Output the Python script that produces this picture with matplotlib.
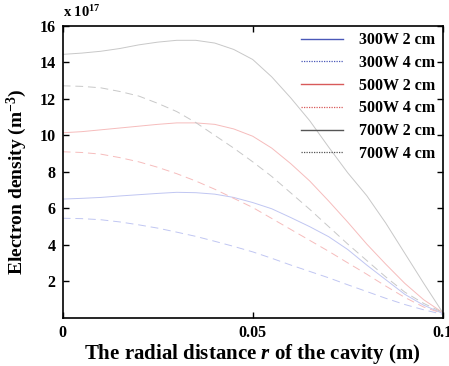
import matplotlib.pyplot as plt
from matplotlib.lines import Line2D

# radial positions (m)
r = [0.0, 0.005, 0.01, 0.015, 0.02, 0.025, 0.03, 0.035, 0.04, 0.045, 0.05,
     0.055, 0.06, 0.065, 0.07, 0.075, 0.08, 0.085, 0.09, 0.095, 0.1]

# electron density (x 1e17 m^-3)
ne_300_2 = [6.51, 6.55, 6.60, 6.68, 6.75, 6.82, 6.88, 6.86, 6.78, 6.60, 6.32,
            5.98, 5.50, 5.00, 4.45, 3.75, 2.90, 2.10, 1.30, 0.70, 0.25]
ne_300_4 = [5.46, 5.44, 5.38, 5.26, 5.10, 4.92, 4.70, 4.47, 4.20, 3.92, 3.62,
            3.27, 2.90, 2.55, 2.20, 1.82, 1.45, 1.08, 0.74, 0.45, 0.20]
ne_500_2 = [10.14, 10.20, 10.30, 10.40, 10.50, 10.60, 10.68, 10.68, 10.60, 10.35, 9.95,
            9.30, 8.45, 7.50, 6.40, 5.25, 4.05, 2.95, 1.90, 1.00, 0.30]
ne_500_4 = [9.10, 9.06, 8.97, 8.78, 8.55, 8.25, 7.90, 7.50, 7.05, 6.55, 6.05,
            5.45, 4.85, 4.25, 3.65, 3.02, 2.40, 1.75, 1.13, 0.60, 0.25]
ne_700_2 = [14.43, 14.50, 14.60, 14.75, 14.95, 15.10, 15.20, 15.20, 15.05, 14.70, 14.15,
            13.20, 12.05, 10.80, 9.35, 7.95, 6.70, 5.20, 3.55, 1.90, 0.30]
ne_700_4 = [12.71, 12.68, 12.60, 12.40, 12.15, 11.75, 11.30, 10.70, 10.00, 9.30, 8.55,
            7.75, 6.85, 5.95, 5.00, 4.05, 3.15, 2.25, 1.42, 0.80, 0.30]

labels = ['300W 2 cm', '300W 4 cm', '500W 2 cm', '500W 4 cm', '700W 2 cm', '700W 4 cm']
series = [ne_300_2, ne_300_4, ne_500_2, ne_500_4, ne_700_2, ne_700_4]

plt.rcParams['font.family'] = 'Liberation Serif'
plt.rcParams['font.weight'] = 'bold'
plt.rcParams['mathtext.fontset'] = 'custom'
plt.rcParams['mathtext.rm'] = 'Liberation Serif:bold'
plt.rcParams['mathtext.bf'] = 'Liberation Serif:bold'
plt.rcParams['mathtext.it'] = 'Liberation Serif:bold:italic'

fig = plt.figure(figsize=(4.49, 3.66), dpi=100)
ax = fig.add_axes([0.1397, 0.1311, 0.8463, 0.7987])

pale = ['#c0c6f2', '#c0c6f2', '#f6bcbc', '#f6bcbc', '#c8c8c8', '#c8c8c8']
strong = ['#4a58b8', '#4a58b8', '#d85a5a', '#d85a5a', '#555555', '#555555']

handles = []
for i, ne in enumerate(series):
    if i % 2 == 0:
        ax.plot(r, ne, color=pale[i], lw=0.7)
        handles.append(Line2D([], [], color=strong[i], lw=1.0, ls='-'))
    else:
        ax.plot(r, ne, color=pale[i], lw=0.7, dashes=(8, 5))
        handles.append(Line2D([], [], color=strong[i], lw=0.9, ls=(0, (1, 1))))

ax.set_xlim(0, 0.1)
ax.set_ylim(0, 16)
ax.set_xticks([0, 0.05, 0.1])
ax.set_xticklabels(['0', '0.05', '0.1'])
ax.set_yticks([2, 4, 6, 8, 10, 12, 14, 16])
ax.tick_params(direction='in', length=4, width=1, labelsize=11.5,
               top=True, right=True, pad=5)
for lab in ax.get_xticklabels() + ax.get_yticklabels():
    lab.set_fontweight('bold')
for sp in ax.spines.values():
    sp.set_linewidth(1.2)

ax.set_xlabel('The radial distance $\\mathit{r}$ of the cavity (m)',
              fontsize=15, fontweight='bold', labelpad=1)
ax.set_ylabel('Electron density (m$^{\\mathbf{-3}}$)', fontsize=14,
              fontweight='bold')
ax.yaxis.set_label_coords(-0.09, 0.465)
ax.text(0.0, 1.02, 'x 10$^{\\mathbf{17}}$', transform=ax.transAxes,
        fontsize=10.5, fontweight='bold', ha='left', va='bottom')

ax.legend(handles, labels, loc='upper right', bbox_to_anchor=(1.005, 1.01),
          frameon=False, handlelength=2.6, handletextpad=1.0,
          labelspacing=0.42, borderaxespad=0.2,
          prop={'weight': 'bold', 'size': 11.5})

fig.savefig('out.png', dpi=100)
